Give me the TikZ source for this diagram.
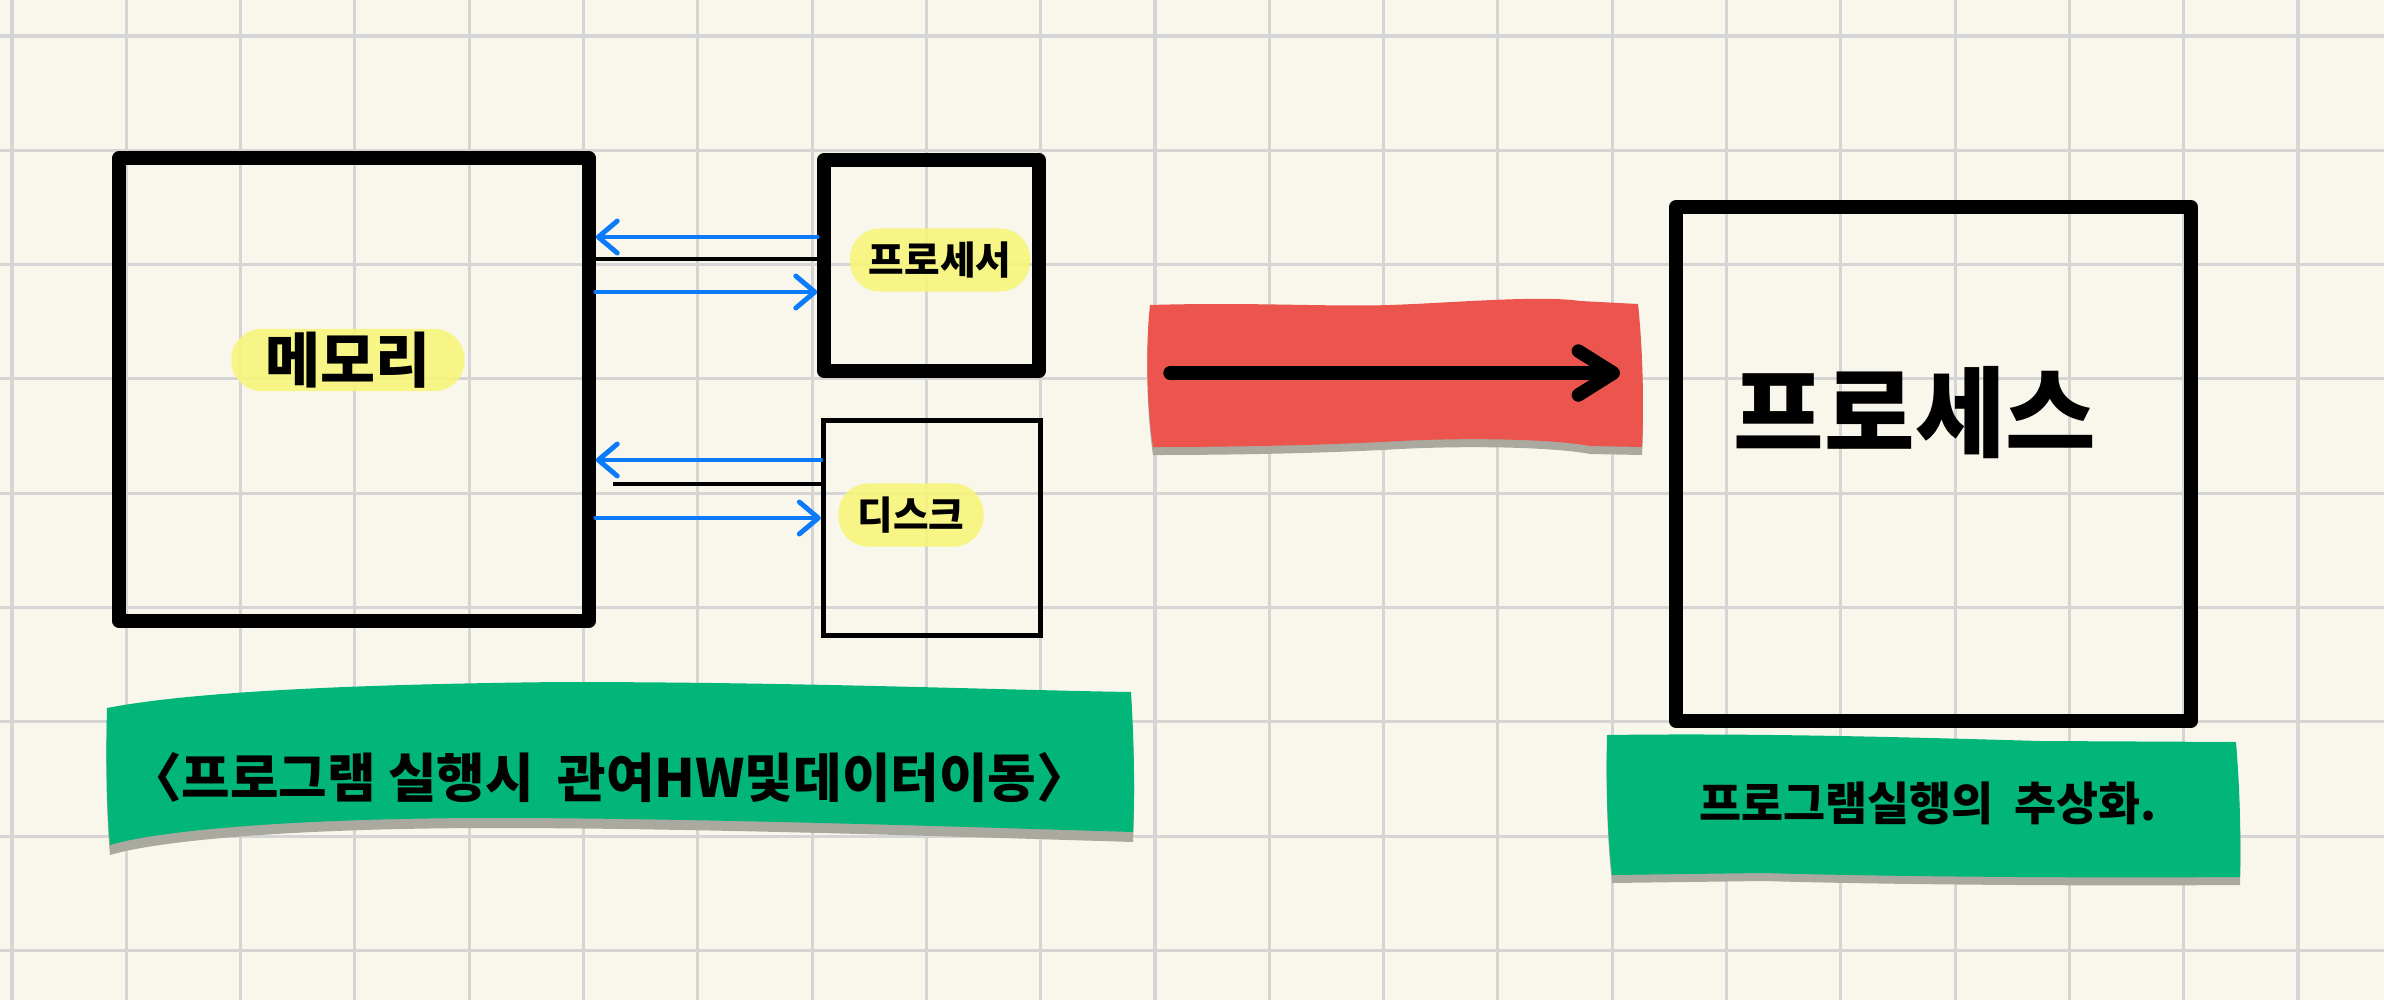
\documentclass[tikz,border=0pt]{standalone}
\usepackage{fontspec}
\newfontfamily\krfont{Noto Sans CJK KR}
\usepackage{tikz}
\usetikzlibrary{arrows.meta,positioning,calc}
\definecolor{paperCream}{RGB}{249,247,236}
\definecolor{gridGray}{RGB}{213,213,213}
\definecolor{flowBlue}{RGB}{12,123,250}
\definecolor{tapeRed}{RGB}{235,85,77}
\definecolor{tapeGreen}{RGB}{2,182,122}
\definecolor{tapeShadow}{RGB}{170,169,160}
\definecolor{markYellow}{RGB}{246,245,122}
% tape outlines (pixel units of the page)
\newcommand{\redTape}{(1150,305) .. controls (1250,302) and (1330,307) .. (1390,305) .. controls (1450,303) and (1540,295) .. (1580,301) -- (1638,304) .. controls (1643,350) and (1644,410) .. (1642,447) -- (1590,446) .. controls (1560,440) and (1480,437) .. (1400,441) .. controls (1330,445) and (1240,447) .. (1153,447) .. controls (1146,400) and (1146,340) .. (1150,305) -- cycle}
\newcommand{\leftTape}{(107,708) .. controls (200,690) and (380,684) .. (560,682) .. controls (800,682) and (1000,690) .. (1131,692) .. controls (1134,740) and (1135,790) .. (1133,832) .. controls (1000,828) and (700,818) .. (496,818) .. controls (300,818) and (160,830) .. (110,845) .. controls (106,800) and (106,750) .. (107,708) -- cycle}
\newcommand{\rightTape}{(1607,735) .. controls (1750,733) and (1900,737) .. (2040,741) -- (2236,742) .. controls (2240,790) and (2241,840) .. (2240,877) .. controls (2100,878) and (1900,877) .. (1763,873) -- (1612,875) .. controls (1607,830) and (1606,780) .. (1607,735) -- cycle}

\begin{document}
\begin{tikzpicture}[x=0.01cm,y=-0.01cm,
    box/.style={draw,line width=3.8pt,line join=round,inner sep=0pt},
    thinbox/.style={draw,line width=1.5pt,inner sep=0pt},
    hilite/.style={fill=markYellow,fill opacity=0.9,text opacity=1,rounded corners=0.3cm,inner sep=0pt},
    flow/.style={flowBlue,line width=1.4pt,line cap=round,-{Straight Barb[length=1.9mm,width=3.2mm,round]}},
    wire/.style={line width=1.1pt}]
  % paper and grid
  \fill[paperCream] (0,0) rectangle (2384,1000);
  \useasboundingbox (0,0) rectangle (2384,1000);
  \foreach \i in {0,...,20}
    \draw[gridGray,line width=0.9pt] ({12+114.3*\i},0) -- ({12+114.3*\i},1000);
  \foreach \j in {0,...,8}
    \draw[gridGray,line width=0.9pt] (0,{36+114.3*\j}) -- (2384,{36+114.3*\j});

  % hardware boxes
  \node[box,minimum width=4.7cm,minimum height=4.63cm] (mem) at (354,389.5) {};
  \node[box,minimum width=2.15cm,minimum height=2.11cm] (cpu) at (931.5,265.5) {};
  \node[thinbox,minimum width=2.17cm,minimum height=2.15cm] (disk) at (932,528) {};
  \node[hilite,minimum width=2.33cm,minimum height=0.62cm,font=\krfont\bfseries\fontsize{17}{17}\selectfont] (memLabel) at (348,360) {메모리};
  \node[hilite,minimum width=1.8cm,minimum height=0.63cm,font=\krfont\bfseries\fontsize{11}{11}\selectfont] (cpuLabel) at (940,260) {프로세서};
  \node[hilite,minimum width=1.45cm,minimum height=0.63cm,font=\krfont\bfseries\fontsize{11}{11}\selectfont] (diskLabel) at (911,515) {디스크};

  % data moving between them
  \coordinate (cpuUp) at (0,237);
  \coordinate (cpuWire) at (0,259);
  \coordinate (cpuDown) at (0,292);
  \coordinate (diskUp) at (0,460);
  \coordinate (diskWire) at (0,484);
  \coordinate (diskDown) at (0,518);
  \draw[flow] (cpu.west |- cpuUp) -- (mem.east |- cpuUp);
  \draw[wire] (mem.east |- cpuWire) -- (cpu.west |- cpuWire);
  \draw[flow] (mem.east |- cpuDown) -- (cpu.west |- cpuDown);
  \draw[flow] (disk.west |- diskUp) -- (mem.east |- diskUp);
  \draw[wire,shorten <=5] (mem.east |- diskWire) -- (disk.west |- diskWire);
  \draw[flow] (mem.east |- diskDown) -- (disk.west |- diskDown);

  % red tape with the big arrow
  \fill[tapeShadow,yshift=-0.08cm] \redTape;
  \fill[tapeRed] \redTape;
  \coordinate (goStart) at (1170,373);
  \coordinate (goEnd) at (1620,373);
  \draw[line width=3.8pt,line cap=round,-{Straight Barb[length=3.5mm,width=4.4mm,round]}] (goStart) -- (goEnd);

  % process box
  \node[box,minimum width=5.15cm,minimum height=5.14cm] (proc) at (1933.5,464) {};
  \node[font=\krfont\bfseries\fontsize{28}{28}\selectfont] (procLabel) at (1915,413) {프로세스};

  % green captions
  \fill[tapeShadow,yshift=-0.1cm] \leftTape;
  \fill[tapeGreen] \leftTape;
  \node[font=\krfont\bfseries\fontsize{15}{15}\selectfont] (leftNote) at (609,778) {〈프로그램 실행시 \ 관여HW및데이터이동〉};
  \fill[tapeShadow,yshift=-0.08cm] \rightTape;
  \fill[tapeGreen] \rightTape;
  \node[font=\krfont\bfseries\fontsize{13}{13}\selectfont] (rightNote) at (1928,803) {프로그램실행의 \ 추상화.};
\end{tikzpicture}
\end{document}
